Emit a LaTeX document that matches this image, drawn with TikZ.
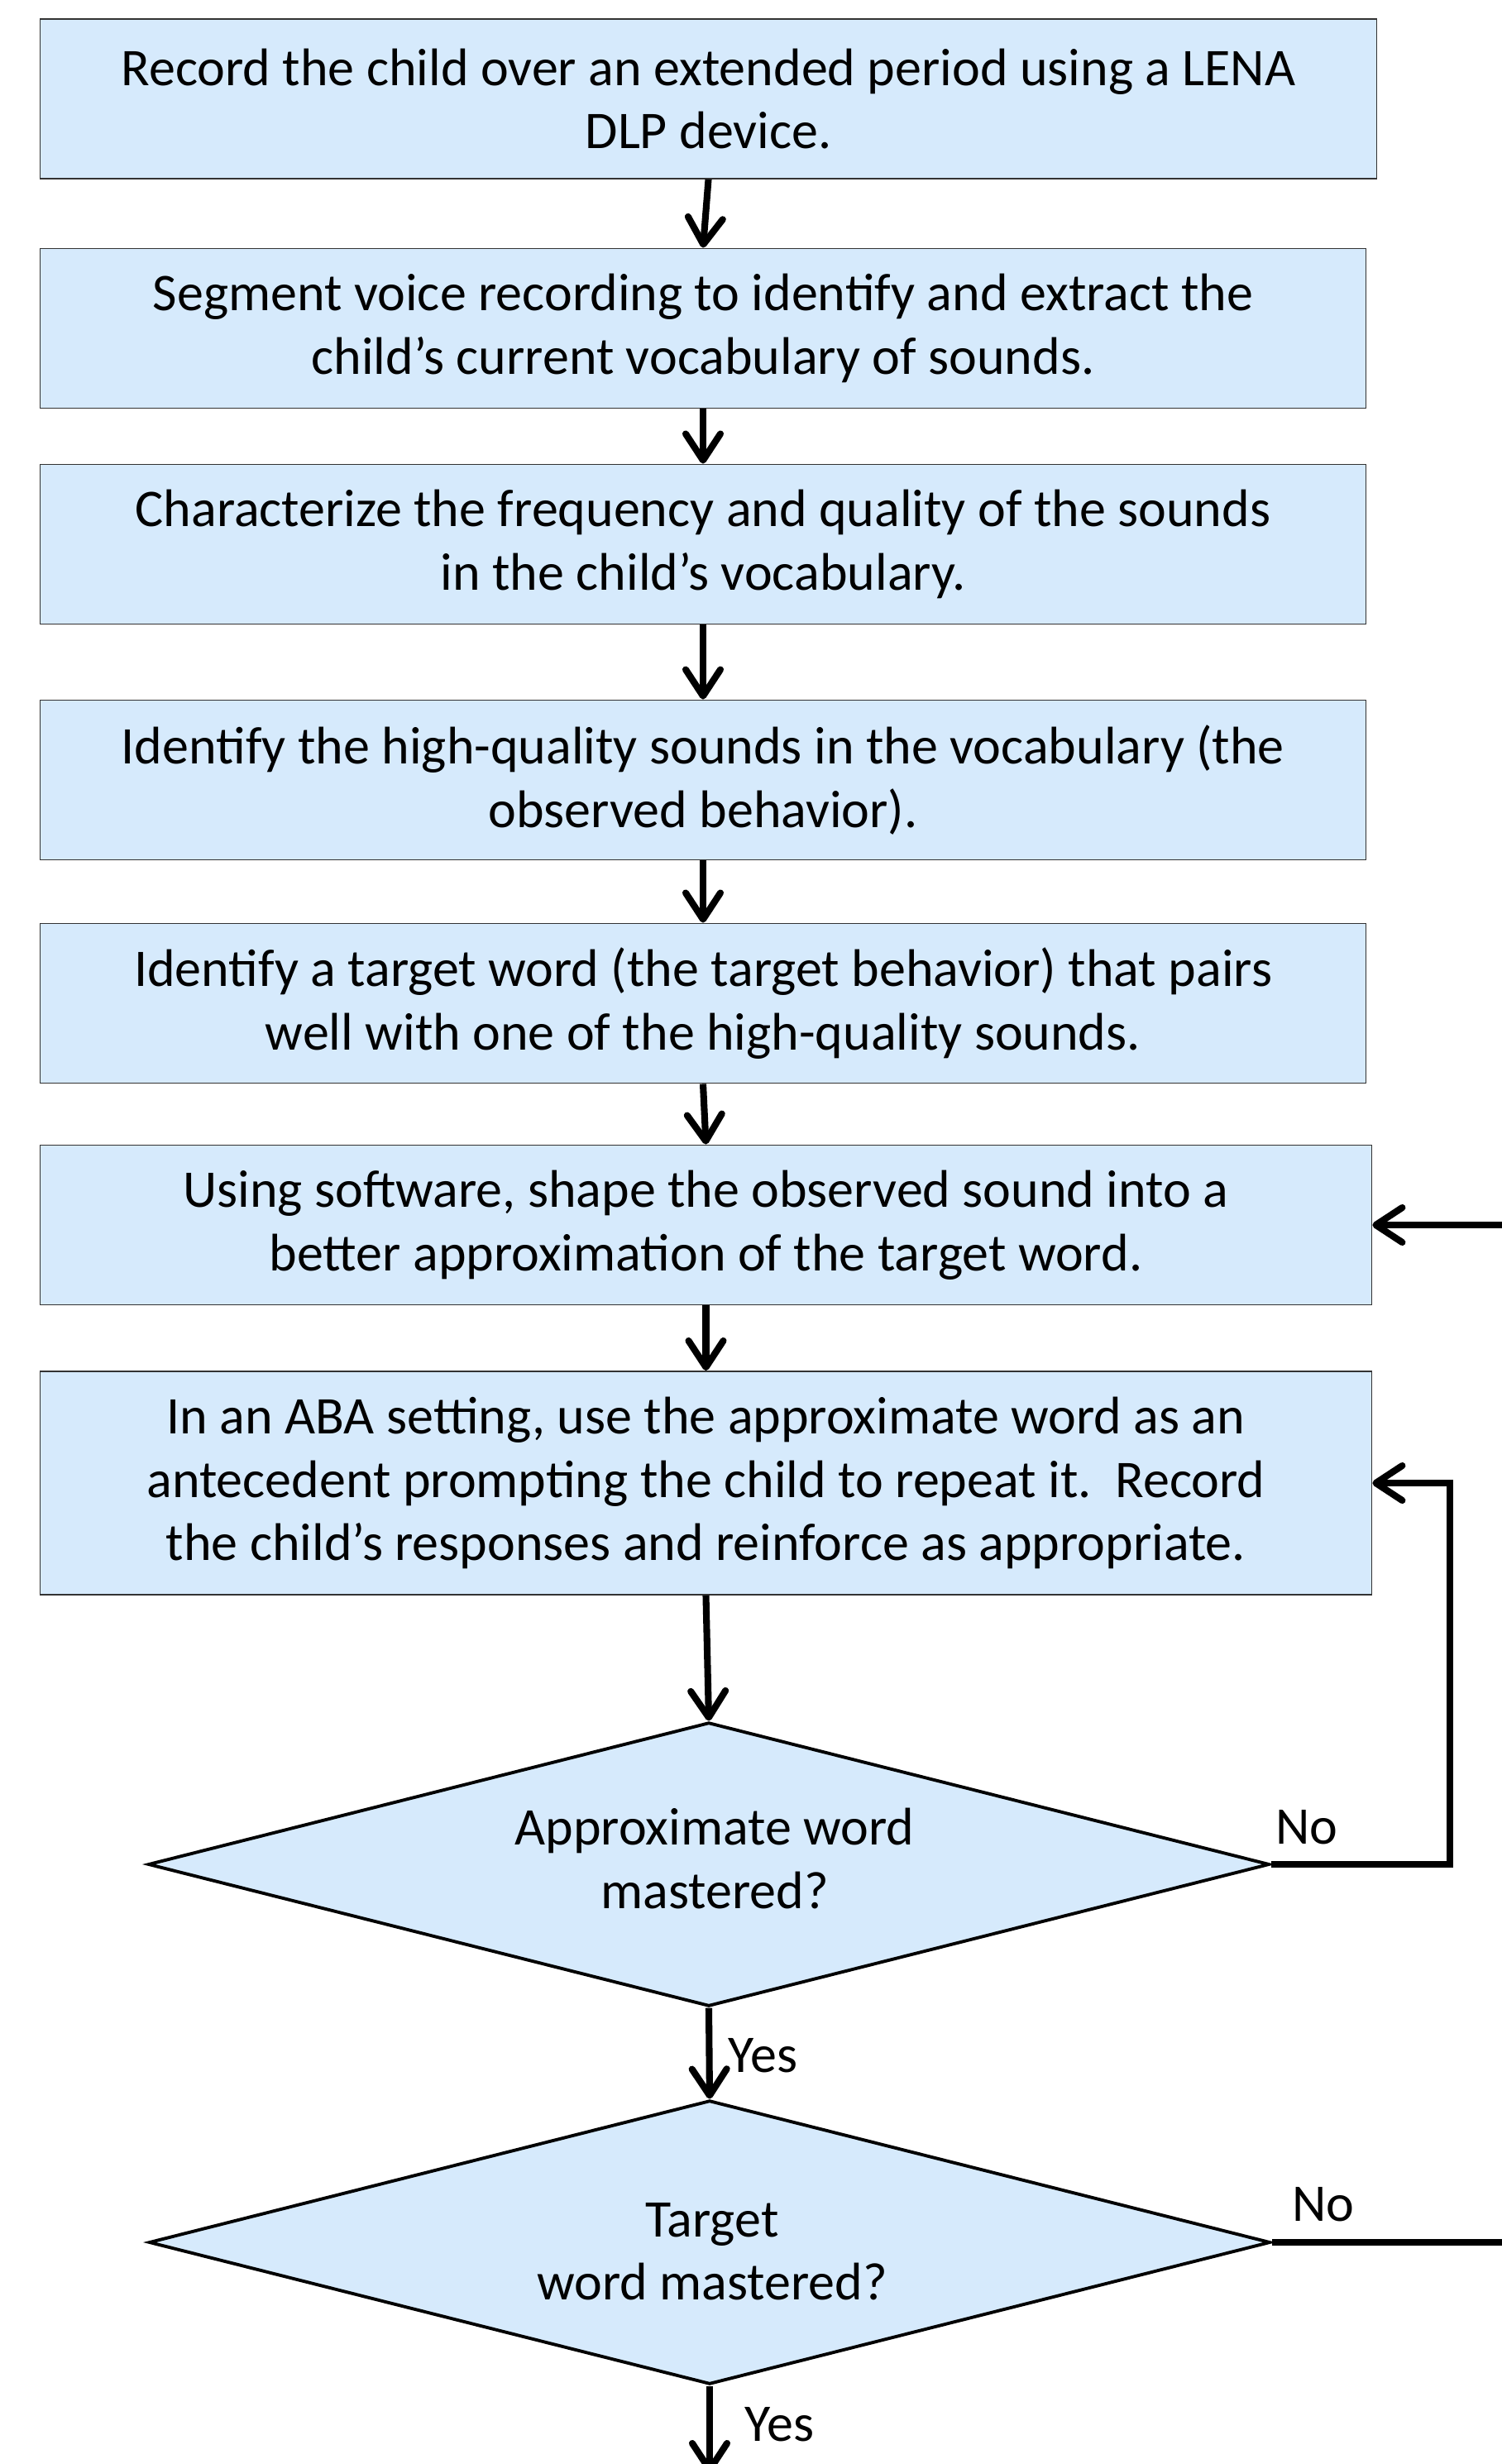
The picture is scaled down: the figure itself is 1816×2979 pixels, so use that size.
\documentclass[tikz,border=0pt]{standalone}
\usepackage{fontspec}
\setmainfont{Carlito}
\usetikzlibrary{shapes.geometric,arrows.meta}
\definecolor{boxblue}{RGB}{214,234,252}

\begin{document}
\begin{tikzpicture}[x=0.01cm,y=-0.01cm,
	font=\fontsize{18.2pt}{21.8pt}\selectfont,
	stepbox/.style={draw=black!80,line width=0.5pt,fill=boxblue,align=center,inner sep=0pt,minimum height=1.93cm},
	choice/.style={diamond,aspect=3.94,draw,line width=1.1pt,fill=boxblue,inner sep=0pt,minimum width=13.55cm,minimum height=3.43cm},
	flow/.style={line width=2.3pt,-{Straight Barb[length=0.32cm,width=0.42cm,round]}},
	backline/.style={line width=2.3pt}]
	\useasboundingbox (0,0) rectangle (1816,2979);
	\node[stepbox,minimum width=16.15cm] (record) at (856.5,119.5) {Record the child over an extended period using a LENA\\DLP device.};
	\node[stepbox,minimum width=16.02cm] (segment) at (850,397) {Segment voice recording to identify and extract the\\child’s current vocabulary of sounds.};
	\node[stepbox,minimum width=16.02cm] (character) at (850,658) {Characterize the frequency and quality of the sounds\\in the child’s vocabulary.};
	\node[stepbox,minimum width=16.02cm] (identify) at (850,943) {Identify the high-quality sounds in the vocabulary (the\\observed behavior).};
	\node[stepbox,minimum width=16.02cm] (pick) at (850,1213) {Identify a target word (the target behavior) that pairs\\well with one of the high-quality sounds.};
	\node[stepbox,minimum width=16.09cm] (shape) at (853.5,1481) {Using software, shape the observed sound into a\\better approximation of the target word.};
	\node[stepbox,minimum width=16.09cm,minimum height=2.7cm] (aba) at (853.5,1793) {In an ABA setting, use the approximate word as an\\antecedent prompting the child to repeat it.\ \ Record\\the child’s responses and reinforce as appropriate.};
	\node[choice] (approx) at (857,2254) {};
	\node[choice] (target) at (858,2711) {};
	\node[align=center] (approxtext) at (864,2247) {Approximate word\\mastered?};
	\node[align=center] (targettext) at (861,2722) {Target\\word mastered?};
	\node (noA) at (1580,2209) {No};
	\node (noB) at (1600,2665) {No};
	\node[anchor=west,inner sep=0pt] (yesA) at (880,2485) {Yes};
	\node[anchor=west,inner sep=0pt] (yesB) at (900,2931) {Yes};
	\coordinate (outA) at (1816,1481);
	\coordinate (outB) at (1816,2711);
	\coordinate (endC) at (858,2990);
	\draw[flow] (record.south) -- (segment.north);
	\draw[flow] (segment.south) -- (character.north);
	\draw[flow] (character.south) -- (identify.north);
	\draw[flow] (identify.south) -- (pick.north);
	\draw[flow] (pick.south) -- (shape.north);
	\draw[flow] (shape.south) -- (aba.north);
	\draw[flow] (aba.south) -- (approx.north);
	\draw[flow] (approx.south) -- (target.north);
	\draw[flow] (target.south) -- (endC);
	\draw[flow] (approx.east) -- ++(216,0) |- (aba.east);
	\draw[backline] (target.east) -- (outB);
	\draw[flow] (outA) -- (shape.east);
\end{tikzpicture}
\end{document}
